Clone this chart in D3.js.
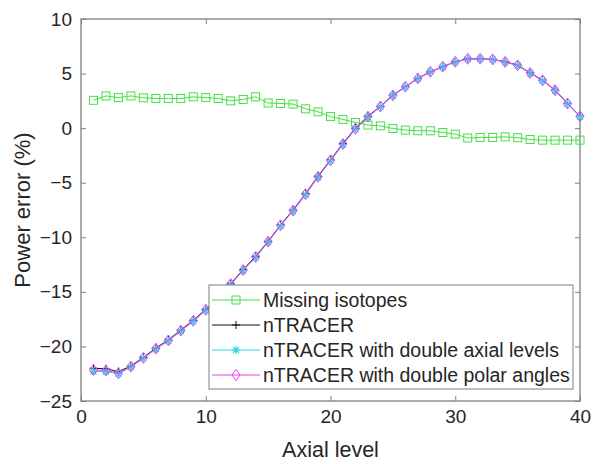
<!DOCTYPE html>
<html>
<head>
<meta charset="utf-8">
<style>
  body { margin: 0; background: #fff; }
  text { font-family: "Liberation Sans", Arial, sans-serif; }
</style>
</head>
<body>
<svg id="chart" width="593" height="464"></svg>
<script src="https://d3js.org/d3.v7.min.js"></script>
<script>
// axial levels 1..40
var levels = [1,2,3,4,5,6,7,8,9,10,11,12,13,14,15,16,17,18,19,20,
              21,22,23,24,25,26,27,28,29,30,31,32,33,34,35,36,37,38,39,40];

var missingIsotopes = [2.55,2.95,2.8,2.95,2.78,2.72,2.72,2.72,2.87,2.8,
                       2.72,2.5,2.63,2.87,2.3,2.26,2.2,1.77,1.5,1.06,
                       0.8,0.52,0.28,0.21,-0.03,-0.18,-0.24,-0.24,-0.4,-0.55,
                       -0.9,-0.85,-0.85,-0.8,-0.88,-1.04,-1.1,-1.1,-1.1,-1.1];

var ntracer = [-22.0,-22.05,-22.3,-21.8,-21.0,-20.15,-19.4,-18.5,-17.6,-16.6,
               -15.5,-14.25,-12.96,-11.74,-10.37,-8.85,-7.5,-6.0,-4.4,-2.9,
               -1.4,0.0,1.1,2.0,3.03,3.8,4.56,5.17,5.63,6.08,
               6.35,6.35,6.3,6.08,5.78,5.07,4.4,3.49,2.27,1.1];

var ntracerDoubleAxial = [-22.3,-22.3,-22.5,-21.9,-21.1,-20.25,-19.5,-18.6,-17.7,-16.7,
                          -15.6,-14.35,-13.05,-11.85,-10.45,-8.95,-7.6,-6.1,-4.5,-3.0,
                          -1.5,-0.1,1.0,1.95,2.98,3.78,4.52,5.15,5.62,6.06,
                          6.33,6.34,6.28,6.05,5.74,5.03,4.35,3.45,2.22,1.05];

var ntracerDoublePolar = [-22.15,-22.2,-22.45,-21.85,-21.05,-20.2,-19.45,-18.55,-17.65,-16.65,
                          -15.55,-14.3,-13.0,-11.8,-10.4,-8.9,-7.55,-6.05,-4.45,-2.95,
                          -1.45,-0.05,1.05,1.98,3.0,3.8,4.55,5.16,5.63,6.08,
                          6.36,6.36,6.3,6.07,5.76,5.05,4.38,3.47,2.25,1.08];

var xTicks = [0,10,20,30,40];
var yTicks = [10,5,0,-5,-10,-15,-20,-25];

var seriesNames = ["Missing isotopes","nTRACER","nTRACER with double axial levels","nTRACER with double polar angles"];

var svg = d3.select("#chart"),
    margin = { top: 19, right: 13, bottom: 63, left: 81 },
    width = +svg.attr("width") - margin.left - margin.right,
    height = +svg.attr("height") - margin.top - margin.bottom,
    g = svg.append("g").attr("transform", "translate(" + margin.left + "," + margin.top + ")");

var x = d3.scaleLinear().domain([0, 40]).range([0, width]);
var y = d3.scaleLinear().domain([-25, 10]).range([height, 0]);

var axisColor = "#7f7f7f";

// axes with inward ticks (box style)
function styleAxis(sel) {
    sel.select(".domain").remove();
    sel.selectAll(".tick line").attr("stroke", axisColor);
    sel.selectAll(".tick text").attr("fill", "#262626").style("font-size", "19px")
        .style("font-family", "'Liberation Sans', Arial, sans-serif");
}

g.append("g").attr("transform", "translate(0," + height + ")")
    .call(d3.axisBottom(x).tickValues(xTicks).tickSizeInner(-5).tickSizeOuter(0).tickPadding(9))
    .call(styleAxis);
g.append("g")
    .call(d3.axisTop(x).tickValues(xTicks).tickSizeInner(-5).tickSizeOuter(0).tickFormat(""))
    .call(styleAxis);
g.append("g")
    .call(d3.axisLeft(y).tickValues(yTicks).tickSizeInner(-5).tickSizeOuter(0).tickPadding(9))
    .call(styleAxis);
g.append("g").attr("transform", "translate(" + width + ",0)")
    .call(d3.axisRight(y).tickValues(yTicks).tickSizeInner(-5).tickSizeOuter(0).tickFormat(""))
    .call(styleAxis);

g.append("rect").attr("width", width).attr("height", height)
    .attr("fill", "none").attr("stroke", axisColor).attr("stroke-width", 1.3);

// axis titles
svg.append("text")
    .attr("x", margin.left + width / 2).attr("y", 457)
    .attr("text-anchor", "middle").style("font-size", "21.5px").attr("fill", "#262626")
    .text("Axial level");
svg.append("text")
    .attr("transform", "translate(30," + (margin.top + height / 2) + ") rotate(-90)")
    .attr("text-anchor", "middle").style("font-size", "22px").attr("fill", "#262626")
    .text("Power error (%)");

// marker drawers
function square(sel, c) {
    sel.append("rect").attr("x", -4).attr("y", -4).attr("width", 8).attr("height", 8)
        .attr("fill", "none").attr("stroke", c).attr("stroke-width", 1);
}
function plus(sel, c) {
    sel.append("path").attr("d", "M-4,0H4M0,-4V4").attr("stroke", c).attr("stroke-width", 1);
}
function asterisk(sel, c) {
    sel.append("path").attr("d", "M-4,0H4M0,-4V4M-3,-3L3,3M-3,3L3,-3")
        .attr("stroke", c).attr("stroke-width", 1.2);
}
function diamond(sel, c) {
    sel.append("path").attr("d", "M0,-5.5L4,0L0,5.5L-4,0Z")
        .attr("fill", "none").attr("stroke", c).attr("stroke-width", 1);
}

var series = [
    { name: seriesNames[0], values: missingIsotopes, color: "#45e045", marker: square },
    { name: seriesNames[1], values: ntracer, color: "#111111", marker: plus },
    { name: seriesNames[2], values: ntracerDoubleAxial, color: "#2fd8ec", marker: asterisk },
    { name: seriesNames[3], values: ntracerDoublePolar, color: "#f03cf0", marker: diamond }
];

var line = d3.line()
    .x(function (d, i) { return x(levels[i]); })
    .y(function (d) { return y(d); });

series.forEach(function (s) {
    g.append("path").datum(s.values)
        .attr("fill", "none").attr("stroke", s.color).attr("stroke-width", 1)
        .attr("d", line);
    s.values.forEach(function (v, i) {
        var m = g.append("g").attr("transform", "translate(" + x(levels[i]) + "," + y(v) + ")");
        s.marker(m, s.color);
    });
});

// legend
var legend = svg.append("g").attr("transform", "translate(209,285)");
legend.append("rect").attr("width", 364).attr("height", 104)
    .attr("fill", "#fff").attr("stroke", axisColor).attr("stroke-width", 1);
series.forEach(function (s, i) {
    var row = legend.append("g").attr("transform", "translate(0," + (15 + i * 25) + ")");
    row.append("line").attr("x1", 3).attr("x2", 51).attr("y1", 0).attr("y2", 0)
        .attr("stroke", s.color).attr("stroke-width", 1);
    var m = row.append("g").attr("transform", "translate(27,0)");
    s.marker(m, s.color);
    row.append("text").attr("x", 54).attr("y", 0).attr("dy", "0.35em")
        .style("font-size", "19.5px").attr("fill", "#262626").text(s.name);
});
</script>
</body>
</html>
